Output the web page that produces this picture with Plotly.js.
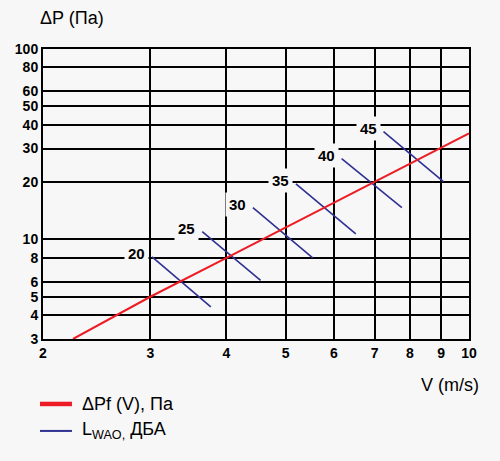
<!DOCTYPE html>
<html>
<head>
<meta charset="utf-8">
<script src="https://cdn.plot.ly/plotly-3.0.1.min.js"></script>
<style>html,body{margin:0;padding:0;background:#f7f7f7;}#chart{width:500px;height:461px;}</style>
</head>
<body>
<div id="chart"></div>
<script>
// Pressure-drop line ΔPf(V)
const velocity = [2.24, 3, 4, 7, 10];
const pressure = [3, 5, 8, 20, 36];

// Noise-level segments L_WAO (dBA)
const noiseLevels = [20, 25, 30, 35, 40, 45];
const noiseStartV = [3.02, 3.65, 4.42, 5.2, 6.18, 7.24];
const noiseStartP = [8.1, 11, 14.7, 19.6, 26.6, 36.8];
const noiseEndV = [3.77, 4.55, 5.54, 6.52, 7.76, 9.08];
const noiseEndP = [4.42, 6.1, 8.0, 10.7, 14.7, 20.1];

// Tick labels
const xTicks = [2, 3, 4, 5, 6, 7, 8, 9, 10];
const yTicks = [3, 4, 5, 6, 8, 10, 20, 30, 40, 50, 60, 80, 100];

const BG = '#f7f7f7';
const RED = '#ed1c24';
const BLUE = '#2e3192';
const FONT = 'Liberation Sans, Arial, sans-serif';

const segX = [], segY = [];
noiseLevels.forEach((lv, i) => {
  segX.push(noiseStartV[i], noiseEndV[i], null);
  segY.push(noiseStartP[i], noiseEndP[i], null);
});

const traces = [
  {x: segX, y: segY, mode: 'lines', line: {color: BLUE, width: 1.6}, name: 'L<sub>WAO,</sub> ДБА', hoverinfo: 'skip'},
  {x: velocity, y: pressure, mode: 'lines', line: {color: RED, width: 2}, name: 'ΔPf (V), Па', hoverinfo: 'skip'}
];

const annotations = noiseLevels.map((lv, i) => ({
  x: Math.log10(noiseStartV[i]), y: Math.log10(noiseStartP[i]),
  xref: 'x', yref: 'y', text: String(lv), showarrow: false,
  xanchor: 'right', yanchor: 'middle', xshift: -3, yshift: 3,
  bgcolor: BG, borderpad: 3,
  font: {family: FONT, size: 15, color: '#000', weight: 'bold'}
}));

annotations.push(
  {xref: 'paper', yref: 'paper', x: -0.012, y: 1.107, xanchor: 'left', yanchor: 'middle',
   text: 'ΔP (Па)', showarrow: false, font: {family: FONT, size: 18, color: '#000'}},
  {xref: 'paper', yref: 'paper', x: 0.883, y: -0.159, xanchor: 'left', yanchor: 'middle',
   text: 'V (m/s)', showarrow: false, font: {family: FONT, size: 18, color: '#000'}},
  {xref: 'paper', yref: 'paper', x: 0.087, y: -0.224, xanchor: 'left', yanchor: 'middle',
   text: 'ΔPf (V), Па', showarrow: false, font: {family: FONT, size: 18, color: '#000'}},
  {xref: 'paper', yref: 'paper', x: 0.087, y: -0.317, xanchor: 'left', yanchor: 'middle',
   text: 'L<sub>WAO,</sub> ДБА', showarrow: false, font: {family: FONT, size: 18, color: '#000'}}
);

const shapes = [
  {type: 'line', xref: 'paper', yref: 'paper', x0: -0.007, x1: 0.068, y0: -0.224, y1: -0.224,
   line: {color: RED, width: 4.5}},
  {type: 'line', xref: 'paper', yref: 'paper', x0: -0.007, x1: 0.068, y0: -0.317, y1: -0.317,
   line: {color: BLUE, width: 2}}
];

const layout = {
  width: 500, height: 461,
  margin: {l: 43, r: 31, t: 49, b: 122},
  paper_bgcolor: BG, plot_bgcolor: BG,
  showlegend: false,
  hovermode: false,
  xaxis: {
    type: 'log', range: [Math.log10(2), Math.log10(10)],
    tickvals: xTicks, ticktext: xTicks.map(String),
    showgrid: true, gridcolor: '#000', gridwidth: 2,
    showline: true, linecolor: '#000', linewidth: 2, mirror: true,
    ticks: '', zeroline: false, fixedrange: true,
    tickfont: {family: FONT, size: 14, color: '#000', weight: 'bold'}
  },
  yaxis: {
    type: 'log', range: [Math.log10(3), 2],
    tickvals: yTicks, ticktext: yTicks.map(String),
    showgrid: true, gridcolor: '#000', gridwidth: 2,
    showline: true, linecolor: '#000', linewidth: 2, mirror: true,
    ticks: '', zeroline: false, fixedrange: true,
    tickfont: {family: FONT, size: 14, color: '#000', weight: 'bold'}
  },
  annotations: annotations,
  shapes: shapes
};

Plotly.newPlot('chart', traces, layout, {displayModeBar: false, staticPlot: true});
</script>
</body>
</html>
